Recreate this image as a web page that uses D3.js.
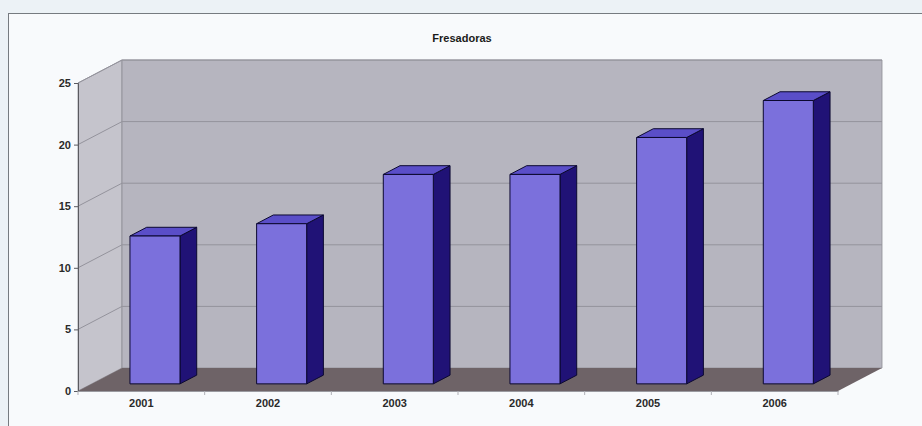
<!DOCTYPE html>
<html>
<head>
<meta charset="utf-8">
<script src="https://cdn.jsdelivr.net/npm/d3@7"></script>
<style>
  html, body { margin: 0; padding: 0; background: #f3f6f9; }
  svg { display: block; }
  text { font-family: "Liberation Sans", Arial, sans-serif; }
</style>
</head>
<body>
<svg id="chart" width="922" height="426"></svg>
<script>
// Data
const years = ["2001", "2002", "2003", "2004", "2005", "2006"];
const values = [12, 13, 17, 17, 20, 23];
const yTicks = [0, 5, 10, 15, 20, 25];
const title = "Fresadoras";

const svg = d3.select("#chart");
const W = 922, H = 426;

// Outer panel
svg.append("rect").attr("x", 0).attr("y", 0).attr("width", W).attr("height", H).attr("fill", "#ecf2f6");
svg.append("rect").attr("x", 8.5).attr("y", 13.5).attr("width", W + 10).attr("height", H)
  .attr("fill", "#f8fafc").attr("stroke", "#767b80").attr("stroke-width", 1);

// Front plane of the 3D box
const plotLeft = 78, plotRight = 838, plotBottom = 391, plotTop = 83;
const depth = { dx: 44, dy: -23 };

const x = d3.scaleBand().domain(years).range([plotLeft, plotRight]).paddingInner(0).paddingOuter(0);
const y = d3.scaleLinear().domain([0, 25]).range([plotBottom, plotTop]);

const off = (p, f) => [p[0] + depth.dx * f, p[1] + depth.dy * f];
const poly = pts => "M" + pts.map(p => p.join(",")).join("L") + "Z";

// Side wall (left)
svg.append("path")
  .attr("d", poly([[plotLeft, plotBottom], [plotLeft, plotTop], off([plotLeft, plotTop], 1), off([plotLeft, plotBottom], 1)]))
  .attr("fill", "#c5c4cc").attr("stroke", "#8e8d96").attr("stroke-width", 0.8);

// Back wall
svg.append("path")
  .attr("d", poly([off([plotLeft, plotTop], 1), off([plotRight, plotTop], 1), off([plotRight, plotBottom], 1), off([plotLeft, plotBottom], 1)]))
  .attr("fill", "#b6b5bf").attr("stroke", "#8e8d96").attr("stroke-width", 0.8);

// Floor
svg.append("path")
  .attr("d", poly([[plotLeft, plotBottom], [plotRight, plotBottom], off([plotRight, plotBottom], 1), off([plotLeft, plotBottom], 1)]))
  .attr("fill", "#6e6367");

// Gridlines on side wall and back wall
const grid = svg.append("g").attr("fill", "none").attr("stroke", "#94939c").attr("stroke-width", 1);
yTicks.filter(v => v > 0).forEach(v => {
  const p0 = [plotLeft, y(v)], p1 = off(p0, 1), p2 = off([plotRight, y(v)], 1);
  grid.append("path").attr("d", "M" + p0.join(",") + "L" + p1.join(",") + "L" + p2.join(","));
});

// Y axis on the front-left edge
const yAxis = svg.append("g").attr("transform", `translate(${plotLeft},0)`)
  .call(d3.axisLeft(y).tickValues(yTicks).tickSize(4).tickPadding(3));
yAxis.select(".domain").attr("stroke", "#5a5a60");
yAxis.selectAll(".tick line").attr("stroke", "#5a5a60");
yAxis.selectAll("text").attr("font-size", 11).attr("font-weight", "bold").attr("fill", "#2a2a2a")
  .attr("font-family", "'Liberation Sans', Arial, sans-serif");

// X axis: labels centred in each band, ticks at band boundaries
const xAxis = svg.append("g").attr("transform", `translate(0,${plotBottom})`)
  .call(d3.axisBottom(x).tickSize(0).tickPadding(8));
xAxis.select(".domain").attr("stroke", "#9a9aa0");
xAxis.selectAll("text").attr("font-size", 11).attr("font-weight", "bold").attr("fill", "#2a2a2a")
  .attr("font-family", "'Liberation Sans', Arial, sans-serif");
const bounds = years.map(d => x(d)).concat([plotRight]);
svg.append("g").selectAll("line").data(bounds).join("line")
  .attr("x1", d => d).attr("x2", d => d).attr("y1", plotBottom).attr("y2", plotBottom + 4)
  .attr("stroke", "#b0b0b6");

// Bars as 3D boxes
const fFront = 0.31, fBack = 0.69;
const barW = x.bandwidth() * 0.395;
const bars = svg.append("g").attr("stroke", "#0b0830").attr("stroke-width", 1).attr("stroke-linejoin", "round");
years.forEach((yr, i) => {
  const cx = x(yr) + x.bandwidth() / 2;
  const x0 = cx - barW / 2, x1 = cx + barW / 2;
  const yb = y(0), yt = y(values[i]);
  const a = off([x0, yt], fFront), b = off([x1, yt], fFront);
  const c = off([x1, yb], fFront), d = off([x0, yb], fFront);
  const bTop = off([x1, yt], fBack), aTop = off([x0, yt], fBack), cBack = off([x1, yb], fBack);
  // side
  bars.append("path").attr("d", poly([b, bTop, cBack, c])).attr("fill", "#201276");
  // top
  bars.append("path").attr("d", poly([a, b, bTop, aTop])).attr("fill", "#5a4ec8");
  // front
  bars.append("path").attr("d", poly([a, b, c, d])).attr("fill", "#7b70dc");
});

// Title
svg.append("text").attr("x", 462).attr("y", 42).attr("text-anchor", "middle")
  .attr("font-size", 11).attr("font-weight", "bold").attr("fill", "#1a1a1a").text(title);
</script>
</body>
</html>
